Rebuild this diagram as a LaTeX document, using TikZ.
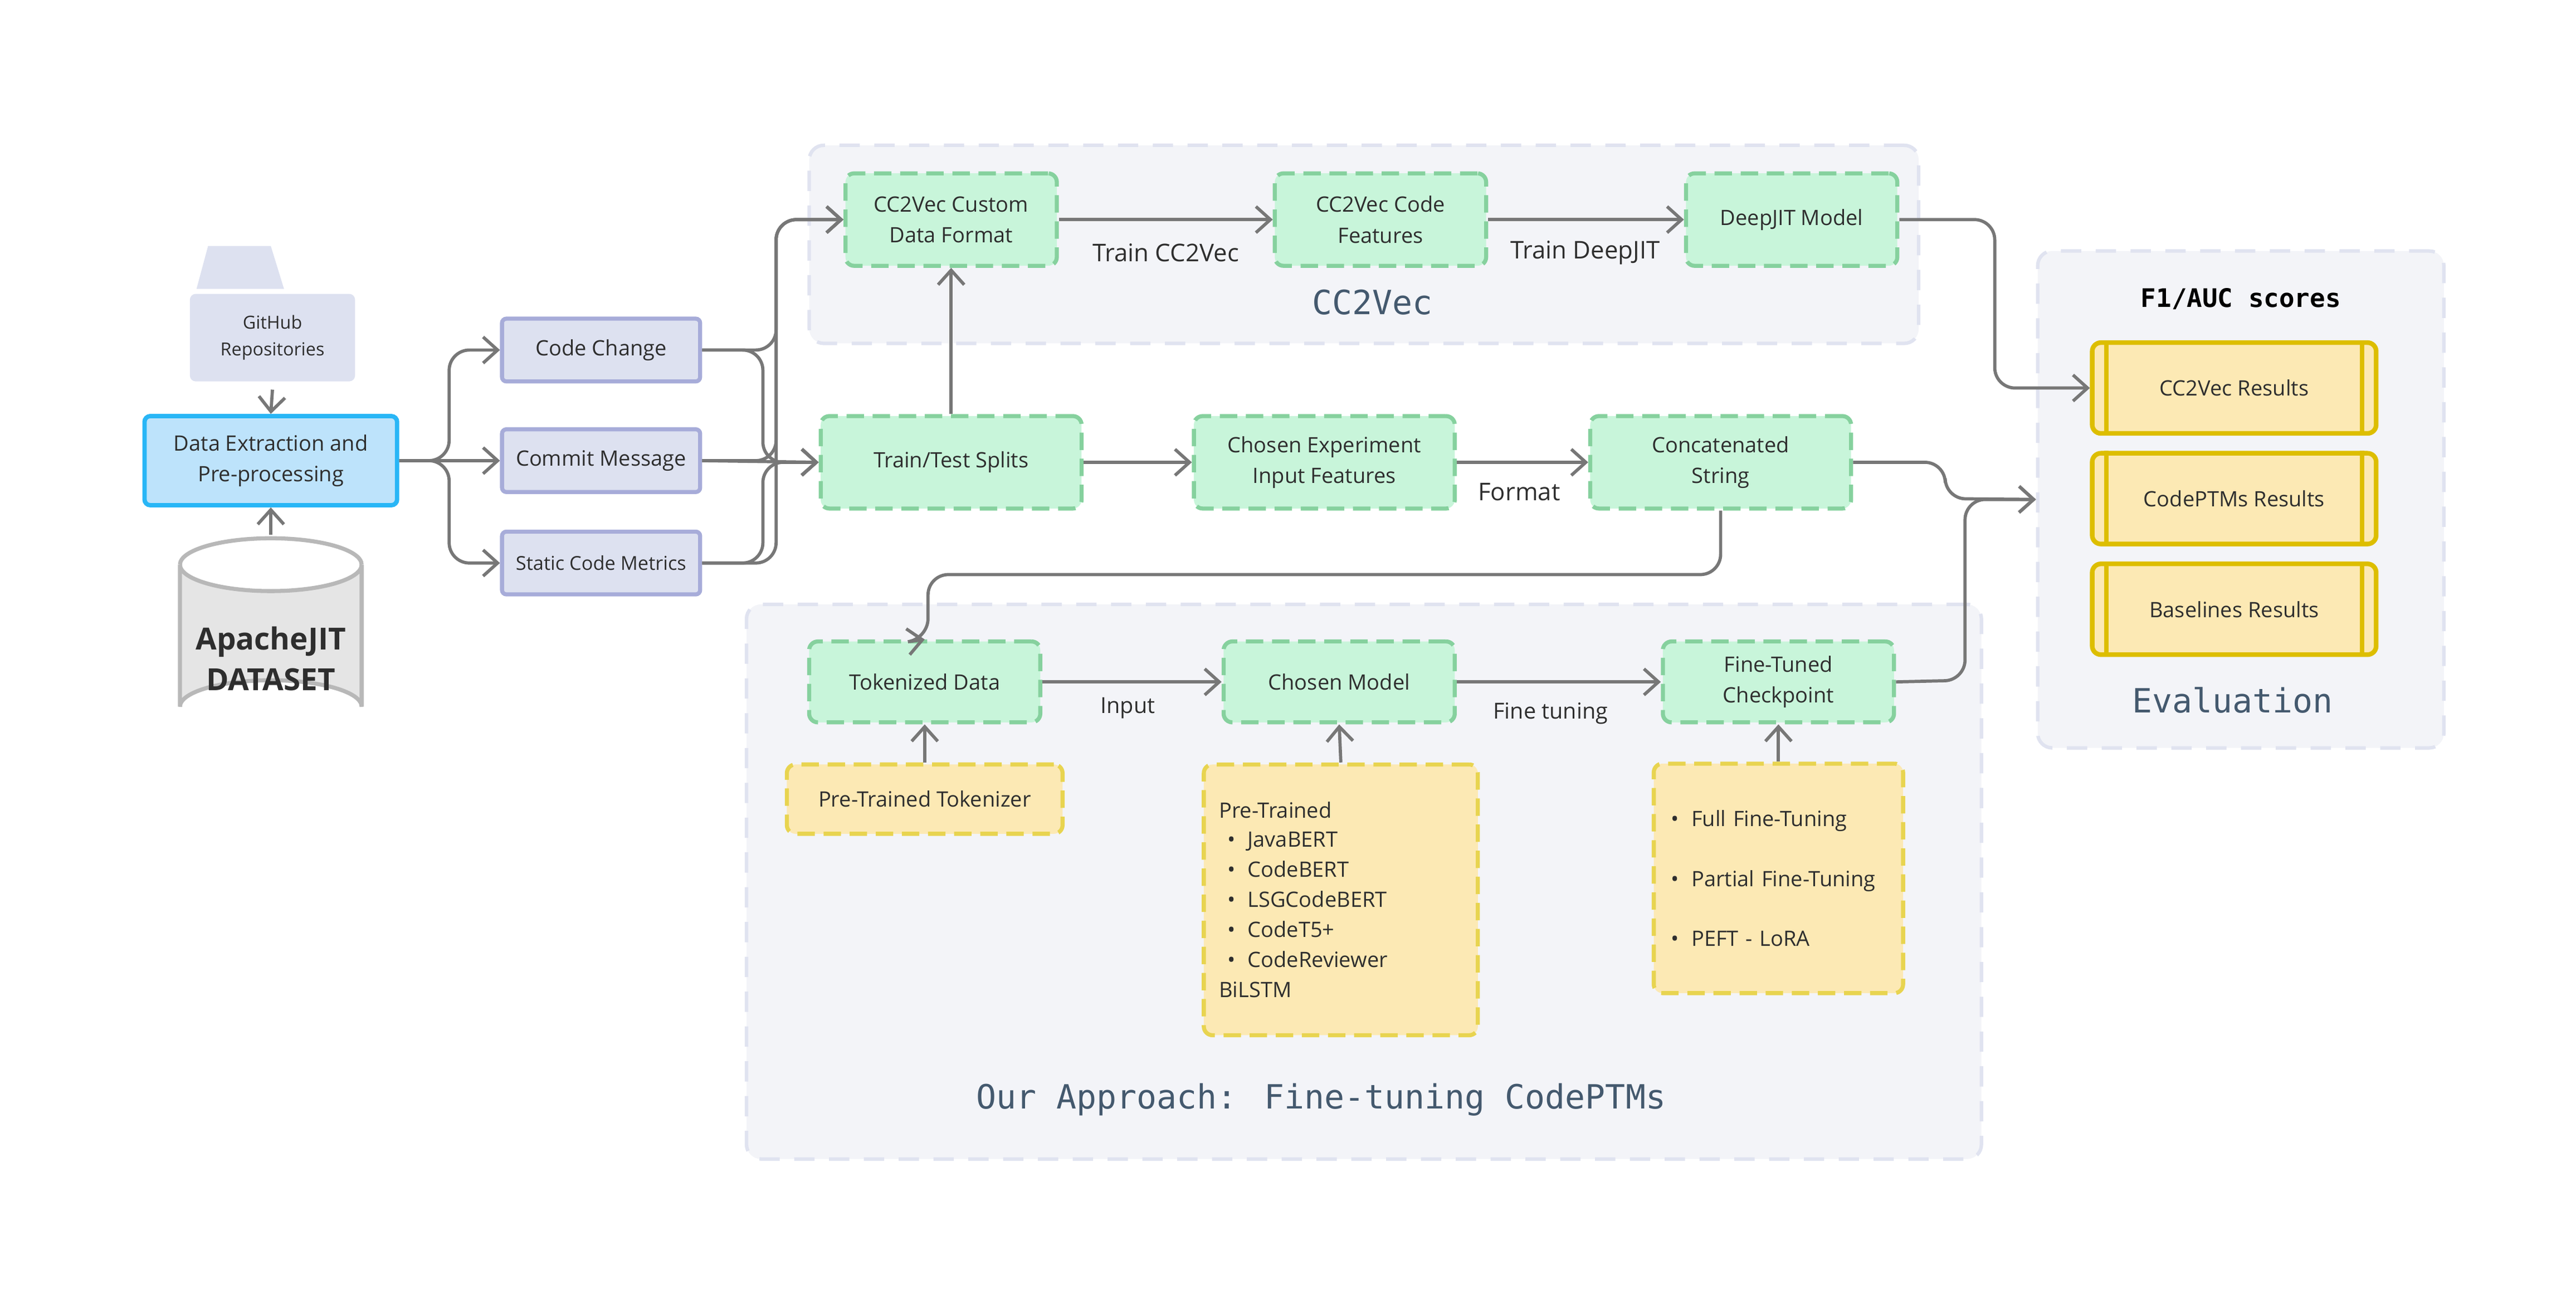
\documentclass[tikz,border=0pt]{standalone}
\usepackage{fontspec}
\setmainfont{Open Sans}
\newfontfamily\mono{DejaVu Sans Mono}
\usetikzlibrary{arrows.meta,calc}
\definecolor{arrc}{HTML}{777777}
\definecolor{txt}{HTML}{2E2E2E}
\definecolor{ttl}{HTML}{44596E}
\definecolor{contf}{HTML}{F3F4F8}
\definecolor{contd}{HTML}{E0E3F0}
\definecolor{grf}{HTML}{C8F5DA}
\definecolor{grd}{HTML}{86D19E}
\definecolor{yef}{HTML}{FCE9B4}
\definecolor{yed}{HTML}{E8D450}
\definecolor{resd}{HTML}{DDBE00}
\definecolor{purf}{HTML}{DDE1F0}
\definecolor{purd}{HTML}{A7ACD9}
\definecolor{bluf}{HTML}{BDE3FB}
\definecolor{blud}{HTML}{29B6F6}
\begin{document}
\begin{tikzpicture}[x=0.02cm,y=-0.02cm,
  every node/.style={text=txt,font=\fontsize{7.3}{10.6}\selectfont},
  arr/.style={draw=arrc,line width=1.1pt,-{Straight Barb[length=5pt,width=9pt]},rounded corners=7pt},
  cont/.style={draw=contd,fill=contf,line width=1.2pt,dash pattern=on 7pt off 5pt,rounded corners=5pt},
  green/.style={draw=grd,fill=grf,line width=1.4pt,dash pattern=on 6pt off 3pt,rounded corners=3pt,align=center},
  yel/.style={draw=yed,fill=yef,line width=1.4pt,dash pattern=on 6pt off 3pt,rounded corners=3pt},
  pur/.style={draw=purd,fill=purf,line width=1.4pt,rounded corners=1.5pt,minimum width=2.4cm,minimum height=0.76cm},
  res/.style={draw=resd,fill=yef,line width=1.6pt,rounded corners=3pt,minimum width=3.44cm,minimum height=1.1cm},
  ctitle/.style={text=ttl,font=\mono\fontsize{11.5}{13}\selectfont},
  elab/.style={font=\fontsize{8.4}{10}\selectfont}]
\useasboundingbox (0,0) rectangle (1560,786.7);
% containers
\node[cont,minimum width=13.44cm,minimum height=2.4cm] (cc2box) at (826,148) {};
\node[cont,minimum width=14.96cm,minimum height=6.72cm] (ourbox) at (826,534) {};
\node[cont,minimum width=4.92cm,minimum height=6.02cm] (evalbox) at (1357,302.5) {};
\node[ctitle] (t1) at (831,183) {CC2Vec};
\node[ctitle] (t2) at (800,666) {Our Approach: Fine-tuning CodePTMs};
\node[ctitle] (t3) at (1352,424) {Evaluation};
\node[font=\mono\bfseries\fontsize{8.8}{10}\selectfont,text=black] (t4) at (1357,181) {F1/AUC scores};
% github folder
\fill[purf] (119,175) -- (126,149) -- (164,149) -- (172,175) -- cycle;
\fill[purf,rounded corners=2pt] (115,178) rectangle (215,231);
\node[align=center,font=\fontsize{6.2}{9.2}\selectfont] (gh) at (165,204.5) {GitHub\\Repositories};
\coordinate (ghbot) at (165,236);
% cylinder
\draw[draw=black!28,fill=black!10,line width=1.4pt] (109,342) -- (109,428) arc[start angle=180,end angle=360,x radius=55,y radius=16] -- (219,342) arc[start angle=0,end angle=180,x radius=55,y radius=16] -- cycle;
\draw[draw=black!28,line width=1.4pt] (109,342) arc[start angle=180,end angle=360,x radius=55,y radius=16];
\coordinate (cyltop) at (164,324);
\node[align=center,font=\bfseries\fontsize{10.5}{14}\selectfont] (apache) at (164,399) {ApacheJIT\\DATASET};
% data extraction
\node[draw=blud,fill=bluf,line width=1.5pt,rounded corners=2pt,minimum width=3.06cm,minimum height=1.08cm,align=center] (dx) at (164,279) {Data Extraction and\\Pre-processing};
\node[pur] (cch) at (364,212) {Code Change};
\node[pur] (cm) at (364,279) {Commit Message};
\node[pur,font=\fontsize{6.6}{8}\selectfont] (scm) at (364,341) {Static Code Metrics};
% cc2vec row
\node[green,minimum width=2.56cm,minimum height=1.12cm] (cust) at (576,133) {CC2Vec Custom\\Data Format};
\node[green,minimum width=2.56cm,minimum height=1.12cm] (feat) at (836,133) {CC2Vec Code\\Features};
\node[green,minimum width=2.56cm,minimum height=1.12cm] (deep) at (1085,133) {DeepJIT Model};
% middle row
\node[green,minimum width=3.16cm,minimum height=1.12cm] (tts) at (576,280) {Train/Test Splits};
\node[green,minimum width=3.16cm,minimum height=1.12cm] (cei) at (802,280) {Chosen Experiment\\Input Features};
\node[green,minimum width=3.16cm,minimum height=1.12cm] (cs) at (1042,280) {Concatenated\\String};
% lower row
\node[green,minimum width=2.8cm,minimum height=0.98cm] (tok) at (560,413) {Tokenized Data};
\node[green,minimum width=2.8cm,minimum height=0.98cm] (cmod) at (811,413) {Chosen Model};
\node[green,minimum width=2.8cm,minimum height=0.98cm] (ftc) at (1077,413) {Fine-Tuned\\Checkpoint};
\node[yel,minimum width=3.34cm,minimum height=0.84cm] (ptt) at (560,484) {Pre-Trained Tokenizer};
\node[yel,minimum width=3.32cm,minimum height=3.28cm,text width=2.95cm,align=left,font=\fontsize{7.3}{10.4}\selectfont] (lst) at (812,545) {Pre-Trained\\[-0.5pt]
\hspace*{0.1cm}\textbullet\hspace{0.15cm}JavaBERT\\
\hspace*{0.1cm}\textbullet\hspace{0.15cm}CodeBERT\\
\hspace*{0.1cm}\textbullet\hspace{0.15cm}LSGCodeBERT\\
\hspace*{0.1cm}\textbullet\hspace{0.15cm}CodeT5+\\
\hspace*{0.1cm}\textbullet\hspace{0.15cm}CodeReviewer\\
BiLSTM};
\node[yel,minimum width=3.02cm,minimum height=2.78cm,text width=2.6cm,align=left,font=\fontsize{7.3}{20.6}\selectfont] (ftl) at (1077,532) {\textbullet\hspace{0.15cm}Full Fine-Tuning\\
\textbullet\hspace{0.15cm}Partial Fine-Tuning\\
\textbullet\hspace{0.15cm}PEFT - LoRA};
% results
\foreach \n/\y/\t in {r1/235/CC2Vec Results,r2/302/CodePTMs Results,r3/369/Baselines Results}{
  \node[res] (\n) at (1353,\y) {\t};
  \draw[resd,line width=1.6pt] ([xshift=0.2cm]\n.north west) -- ([xshift=0.2cm]\n.south west);
  \draw[resd,line width=1.6pt] ([xshift=-0.2cm]\n.north east) -- ([xshift=-0.2cm]\n.south east);
}
% edge labels
\node[elab] (l1) at (706,153) {Train CC2Vec};
\node[elab] (l2) at (960,153) {Train DeepJIT};
\node[elab] (l3) at (920,298) {Format};
\node[elab,font=\fontsize{7.6}{9}\selectfont] (l4) at (683,429) {Input};
\node[elab,font=\fontsize{7.6}{9}\selectfont] (l5) at (939,432) {Fine tuning};
% connectors
\draw[arr] (ghbot) -- (dx.north);
\draw[arr] (cyltop) -- (dx.south);
\draw[arr] (dx.east) -- (272,279) |- (cch.west);
\draw[arr] (dx.east) -- (cm.west);
\draw[arr] (dx.east) -- (272,279) |- (scm.west);
\draw[arr] (cch.east) -- (470,212) |- (cust.west);
\draw[arr] (cm.east) -- (470,279) |- (cust.west);
\draw[arr] (scm.east) -- (470,341) |- (cust.west);
\draw[arr] (cch.east) -- (462,212) |- (tts.west);
\draw[arr] (cm.east) -- (tts.west);
\draw[arr] (scm.east) -- (462,341) |- (tts.west);
\draw[arr] (tts.north) -- (cust.south);
\draw[arr] (cust.east) -- (feat.west);
\draw[arr] (feat.east) -- (deep.west);
\draw[arr] (deep.east) -- (1208,133) |- (r1.west);
\draw[arr] (tts.east) -- (cei.west);
\draw[arr] (cei.east) -- (cs.west);
\draw[arr] (cs.east) -- (1178,280) -- (1178,302) -- (evalbox.west);
\draw[arr] (ftc.east) -- (1190,412) |- (evalbox.west);
\draw[arr] (cs.south) |- (562,348) -- (562,387) -- (tok.north);
\draw[arr] (tok.east) -- (cmod.west);
\draw[arr] (cmod.east) -- (ftc.west);
\draw[arr] (ptt.north) -- (tok.south);
\draw[arr] (lst.north) -- (cmod.south);
\draw[arr] (ftl.north) -- (ftc.south);
\end{tikzpicture}
\end{document}
